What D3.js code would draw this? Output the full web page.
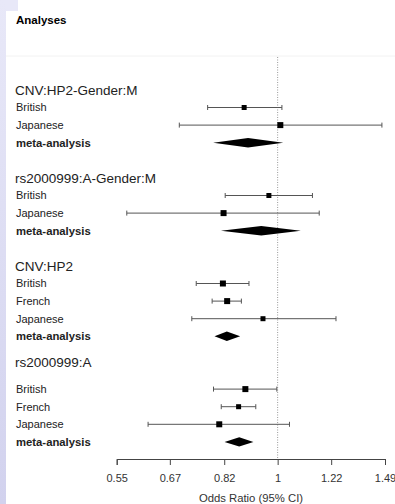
<!DOCTYPE html>
<html>
<head>
<meta charset="utf-8">
<script src="https://cdn.jsdelivr.net/npm/d3@7"></script>
<style>
  body { margin: 0; background: #fff; }
  svg { display: block; font-family: "Liberation Sans", Arial, sans-serif; }
</style>
</head>
<body>
<svg id="chart" width="395" height="504"></svg>
<script>
// data
const groups = ['CNV:HP2-Gender:M', 'rs2000999:A-Gender:M', 'CNV:HP2', 'rs2000999:A'];
const studies = [
  ['British', 'Japanese'],
  ['British', 'Japanese'],
  ['British', 'French', 'Japanese'],
  ['British', 'French', 'Japanese']
];
const estimates = [[0.883, 1.010], [0.968, 0.818], [0.816, 0.829, 0.947], [0.887, 0.865, 0.805]];
const lowers = [[0.771, 0.694], [0.823, 0.571], [0.739, 0.784, 0.727], [0.788, 0.811, 0.618]];
const uppers = [[1.016, 1.473], [1.138, 1.167], [0.899, 0.874, 1.242], [0.997, 0.922, 1.045]];
const weights = [[5, 6], [5, 6], [6, 6, 5], [6, 5, 6]];
const metaEst = [0.896, 0.941, 0.828, 0.867];
const metaLow = [0.787, 0.810, 0.791, 0.821];
const metaHigh = [1.021, 1.090, 0.870, 0.914];
const tickValues = [0.55, 0.67, 0.82, 1, 1.22, 1.49];

const svg = d3.select('#chart');
const W = 395, H = 504;

// фон и боковая полоска
svg.append('rect').attr('width', W).attr('height', H).attr('fill', '#fff');
const grad = svg.append('defs').append('linearGradient')
  .attr('id', 'side').attr('x1', 0).attr('y1', 0).attr('x2', 0).attr('y2', 1);
grad.append('stop').attr('offset', 0).attr('stop-color', '#e8e8f8');
grad.append('stop').attr('offset', 1).attr('stop-color', '#d2d2ee');
svg.append('rect').attr('x', 0).attr('y', 0).attr('width', 18).attr('height', 11).attr('fill', '#e8e8f8');
svg.append('rect').attr('x', 0).attr('y', 0).attr('width', 6).attr('height', H).attr('fill', 'url(#side)');
svg.append('line').attr('x1', 6).attr('x2', W).attr('y1', 56).attr('y2', 56)
  .attr('stroke', '#f2f2f2');

const x = d3.scaleLog().domain([0.55, 1.49]).range([116.7, 385]);
const y = d3.scaleLinear().domain([0, 19]).range([107.5, 441.9]);

// собираем строки из массивов
const rows = [];
const headers = [];
let idx = 0;
groups.forEach((g, gi) => {
  // last header sits a bit higher above its rows
  const headerGap = gi === groups.length - 1 ? 1.5 : 1;
  headers.push({ label: g, row: idx - headerGap });
  studies[gi].forEach((s, si) => {
    rows.push({ type: 'study', label: s, row: idx + si,
      est: estimates[gi][si], lo: lowers[gi][si], hi: uppers[gi][si], w: weights[gi][si] });
  });
  rows.push({ type: 'meta', label: 'meta-analysis', row: idx + studies[gi].length,
    est: metaEst[gi], lo: metaLow[gi], hi: metaHigh[gi] });
  idx += studies[gi].length + 3;
});

svg.append('text')
  .attr('x', 16).attr('y', 24)
  .style('font-size', '11.5px').style('font-weight', 'bold')
  .text('Analyses');

// линия OR = 1
svg.append('line')
  .attr('x1', x(1)).attr('x2', x(1))
  .attr('y1', 57).attr('y2', 459)
  .attr('stroke', '#999').attr('stroke-dasharray', '1,1.5');

svg.selectAll('text.header')
  .data(headers)
  .enter()
  .append('text')
  .classed('header', true)
  .attr('x', 15)
  .attr('y', d => y(d.row))
  .attr('dy', '0.35em')
  .style('font-size', '13.5px')
  .style('fill', '#222')
  .text(d => d.label);

svg.selectAll('text.row-label')
  .data(rows)
  .enter()
  .append('text')
  .classed('row-label', true)
  .attr('x', 16)
  .attr('y', d => y(d.row))
  .attr('dy', '0.35em')
  .style('font-size', d => d.type === 'meta' ? '11.3px' : '11px')
  .style('font-weight', d => d.type === 'meta' ? 'bold' : 'normal')
  .style('fill', '#222')
  .text(d => d.label);

const studyRows = rows.filter(d => d.type === 'study');
const ci = svg.selectAll('g.ci')
  .data(studyRows)
  .enter()
  .append('g')
  .classed('ci', true)
  .attr('transform', d => `translate(0, ${y(d.row)})`);

ci.append('line')
  .attr('x1', d => x(d.lo)).attr('x2', d => x(d.hi))
  .attr('stroke', '#555').attr('stroke-width', 1);
ci.append('line')
  .attr('x1', d => x(d.lo)).attr('x2', d => x(d.lo))
  .attr('y1', -2.5).attr('y2', 2.5)
  .attr('stroke', '#555');
ci.append('line')
  .attr('x1', d => x(d.hi)).attr('x2', d => x(d.hi))
  .attr('y1', -2.5).attr('y2', 2.5)
  .attr('stroke', '#555');
ci.append('rect')
  .attr('x', d => x(d.est) - d.w / 2)
  .attr('y', d => -d.w / 2)
  .attr('width', d => d.w)
  .attr('height', d => d.w)
  .attr('fill', '#000');

// ромбы мета-анализа
svg.selectAll('path.diamond')
  .data(rows.filter(d => d.type === 'meta'))
  .enter()
  .append('path')
  .classed('diamond', true)
  .attr('d', d => {
    const cy = y(d.row), h = 4.7;
    return `M${x(d.lo)},${cy}L${x(d.est)},${cy - h}L${x(d.hi)},${cy}L${x(d.est)},${cy + h}Z`;
  })
  .attr('fill', '#000');

// ось
const axis = svg.append('g')
  .attr('transform', 'translate(0, 459)')
  .call(d3.axisBottom(x).tickValues(tickValues).tickFormat(d => d).tickSizeOuter(0).tickSize(6));
axis.select('.domain').attr('stroke', '#444');
axis.selectAll('.tick line').attr('stroke', '#444');
axis.selectAll('.tick text')
  .attr('y', 15)
  .style('font-size', '11px')
  .style('font-family', '"Liberation Sans", Arial, sans-serif')
  .style('fill', '#333');

svg.append('text')
  .attr('x', 251).attr('y', 502)
  .attr('text-anchor', 'middle')
  .style('font-size', '11.3px')
  .style('fill', '#333')
  .text('Odds Ratio (95% CI)');
</script>
</body>
</html>
